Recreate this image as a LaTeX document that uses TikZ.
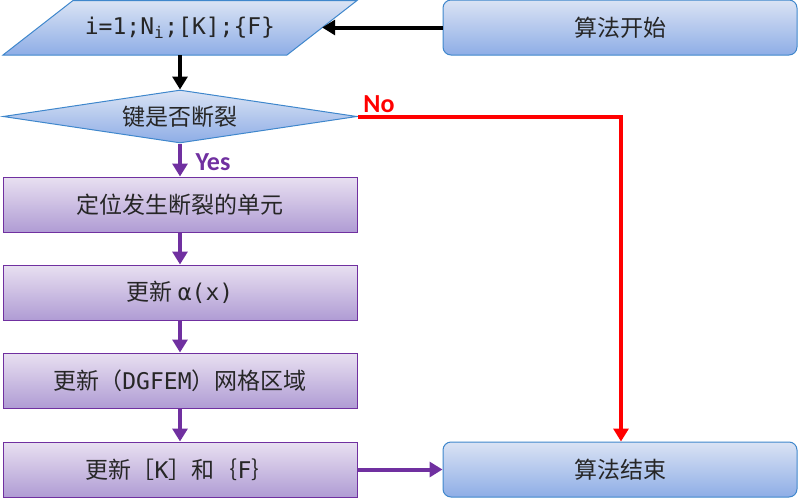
\documentclass[tikz,border=0pt]{standalone}
\usepackage{fontspec}
\setmainfont{Noto Sans CJK SC}
\newfontfamily\monof{DejaVu Sans Mono}
\newfontfamily\latf{Carlito}
\usetikzlibrary{shapes.geometric,arrows.meta}
\definecolor{bluetop}{HTML}{DAE3F4}
\definecolor{bluebot}{HTML}{8EADE6}
\definecolor{blueline}{HTML}{3F87CC}
\definecolor{purptop}{HTML}{E8E0F1}
\definecolor{purpbot}{HTML}{B09CD4}
\definecolor{purpline}{HTML}{7030A0}
\definecolor{redline}{HTML}{FF0000}
\begin{document}
\begin{tikzpicture}[x=1pt,y=-1pt,
  txt/.style={font=\fontsize{23}{27}\selectfont, text=black!85},
  bluebox/.style={txt, draw=blueline, line width=1pt, top color=bluetop, bottom color=bluebot, minimum width=354pt, minimum height=55pt, inner sep=0pt, rounded corners=8pt},
  purpbox/.style={txt, draw=purpline, line width=1pt, top color=purptop, bottom color=purpbot, minimum width=354pt, minimum height=55pt, inner sep=0pt},
  blkarrow/.style={line width=4pt, black, -{Triangle[width=15pt,length=13pt]}},
  purarrow/.style={line width=4pt, purpline, -{Triangle[width=15pt,length=13pt]}},
  redarrow/.style={line width=4pt, redline, -{Triangle[width=15pt,length=13pt]}},
  lbl/.style={font=\latf\bfseries\fontsize{26}{30}\selectfont}
]
\useasboundingbox (0,0) rectangle (798,498);

% start box
\node[bluebox] (start) at (620,27.5) {算法开始};

% parallelogram
\path[draw=blueline, line width=1pt, top color=bluetop, bottom color=bluebot]
  (3,55) -- (73,0.5) -- (357,0.5) -- (287,55) -- cycle;
\node[txt, minimum width=284pt, minimum height=55pt, inner sep=0pt] (par) at (180,27.5)
  {\monof i=1;N\textsubscript{i};[K];\{F\}};

% diamond
\node[txt, diamond, aspect=6.7, draw=blueline, line width=1pt, top color=bluetop, bottom color=bluebot,
  minimum width=354pt, minimum height=53pt, inner sep=0pt] (dia) at (180,116.5) {键是否断裂};

% purple boxes
\node[purpbox] (b1) at (180,204.5) {定位发生断裂的单元};
\node[purpbox] (b2) at (180,292.5) {更新 {\monof α(x)}};
\node[purpbox] (b3) at (180,380.5) {更新（{\monof DGFEM}）网格区域};
\node[purpbox] (b4) at (180,469.5) {更新［{\monof K}］和｛{\monof F}｝};

% end box
\node[bluebox] (end) at (620,469.5) {算法结束};

% connectors
\draw[blkarrow] (start.west) -- (par.east);
\draw[blkarrow] (par.south) -- (dia.north);
\draw[purarrow] (dia.south) -- (b1.north);
\draw[purarrow] (b1.south) -- (b2.north);
\draw[purarrow] (b2.south) -- (b3.north);
\draw[purarrow] (b3.south) -- (b4.north);
\draw[purarrow] (b4.east) -- (end.west);
\coordinate (turn) at (621,116.5);
\draw[redarrow] (dia.east) -- (turn) -- (turn |- end.north);

% labels
\node[lbl, text=redline] (nolbl) at (379,104) {No};
\node[lbl, text=purpline] (yeslbl) at (213,162) {Yes};
\end{tikzpicture}
\end{document}
